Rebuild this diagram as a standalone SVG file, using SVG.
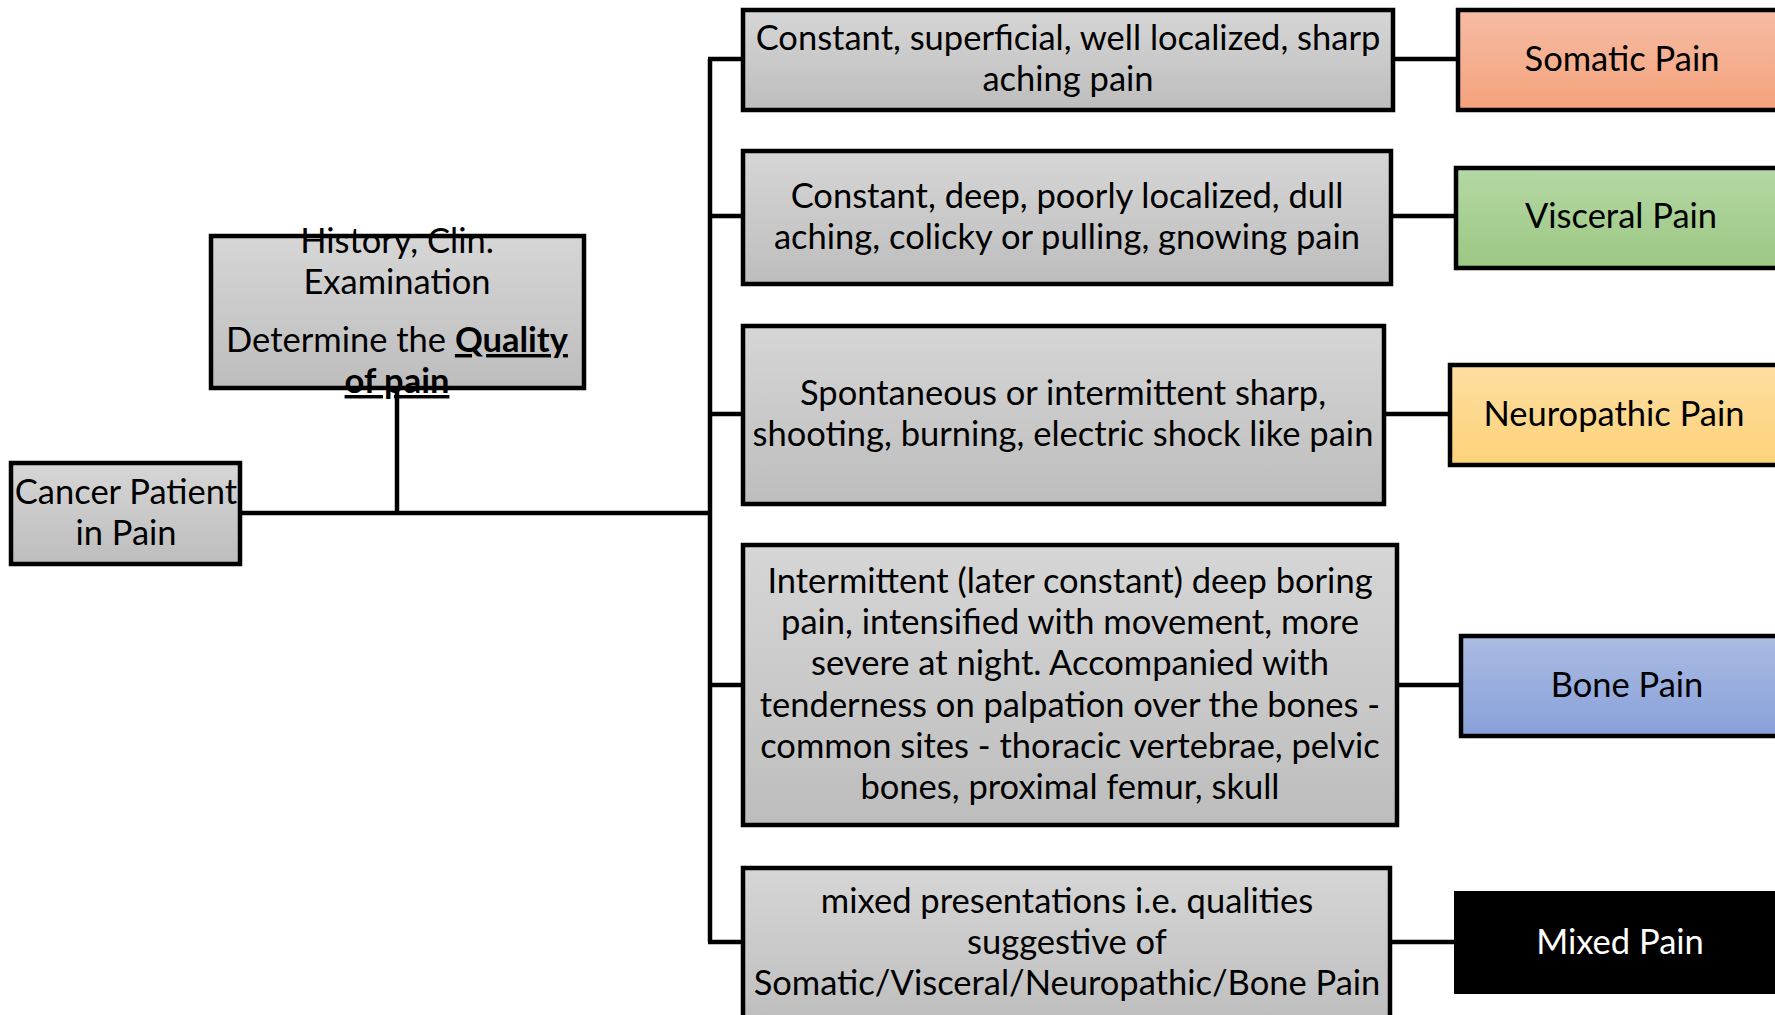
<svg xmlns="http://www.w3.org/2000/svg" width="1775" height="1015" viewBox="0 0 1775 1015">
  <defs>
    <linearGradient id="gGray" x1="0" y1="0" x2="0" y2="1">
      <stop offset="0" stop-color="#d6d6d6"/>
      <stop offset="1" stop-color="#bdbdbd"/>
    </linearGradient>
    <linearGradient id="gSomatic" x1="0" y1="0" x2="0" y2="1">
      <stop offset="0" stop-color="#f6bca4"/>
      <stop offset="1" stop-color="#f4a27c"/>
    </linearGradient>
    <linearGradient id="gVisceral" x1="0" y1="0" x2="0" y2="1">
      <stop offset="0" stop-color="#b5d8a4"/>
      <stop offset="1" stop-color="#9bc783"/>
    </linearGradient>
    <linearGradient id="gNeuro" x1="0" y1="0" x2="0" y2="1">
      <stop offset="0" stop-color="#fedea2"/>
      <stop offset="1" stop-color="#fdd278"/>
    </linearGradient>
    <linearGradient id="gBone" x1="0" y1="0" x2="0" y2="1">
      <stop offset="0" stop-color="#abbbe3"/>
      <stop offset="1" stop-color="#88a1d9"/>
    </linearGradient>
  </defs>
  <style>
    .box { stroke: #000; stroke-width: 4.5; }
    .gray { fill: url(#gGray); }
    .t { font-family: "Lato", "Liberation Sans", sans-serif; font-size: 34.5px; fill: #000; text-anchor: middle; }
    .w { fill: #fff; }
    .b { font-weight: bold; text-decoration: underline; }
    .ln { stroke: #000; stroke-width: 4.5; fill: none; }
  </style>
  <rect width="1775" height="1015" fill="#fff"/>

  <!-- root -->
  <g id="cancer-patient">
    <rect class="box gray" x="11" y="463" width="229" height="101"/>
    <text class="t" x="126" y="504">Cancer Patient</text>
    <text class="t" x="126" y="545">in Pain</text>
  </g>

  <!-- assessment -->
  <g id="history">
    <rect class="box gray" x="211" y="236" width="373" height="152"/>
    <text class="t" x="397" y="253">History, Clin.</text>
    <text class="t" x="397" y="294">Examination</text>
    <text class="t" x="397" y="352">Determine the <tspan class="b">Quality</tspan></text>
    <text class="t" x="397" y="393"><tspan class="b">of pain</tspan></text>
  </g>

  <!-- descriptions -->
  <g id="desc-somatic">
    <rect class="box gray" x="743" y="10" width="650" height="100"/>
    <text class="t" x="1068" y="50">Constant, superficial, well localized, sharp</text>
    <text class="t" x="1068" y="91">aching pain</text>
  </g>
  <g id="desc-visceral">
    <rect class="box gray" x="743" y="151" width="648" height="133"/>
    <text class="t" x="1067" y="208">Constant, deep, poorly localized, dull</text>
    <text class="t" x="1067" y="249">aching, colicky or pulling, gnowing pain</text>
  </g>
  <g id="desc-neuropathic">
    <rect class="box gray" x="743" y="326" width="641" height="178"/>
    <text class="t" x="1063" y="405">Spontaneous or intermittent sharp,</text>
    <text class="t" x="1063" y="446">shooting, burning, electric shock like pain</text>
  </g>
  <g id="desc-bone">
    <rect class="box gray" x="743" y="545" width="654" height="280"/>
    <text class="t" x="1070" y="593">Intermittent (later constant) deep boring</text>
    <text class="t" x="1070" y="634">pain, intensified with movement, more</text>
    <text class="t" x="1070" y="675">severe at night. Accompanied with</text>
    <text class="t" x="1070" y="717">tenderness on palpation over the bones -</text>
    <text class="t" x="1070" y="758">common sites - thoracic vertebrae, pelvic</text>
    <text class="t" x="1070" y="799">bones, proximal femur, skull</text>
  </g>
  <g id="desc-mixed">
    <rect class="box gray" x="743" y="868" width="647" height="160"/>
    <text class="t" x="1067" y="913">mixed presentations i.e. qualities</text>
    <text class="t" x="1067" y="954">suggestive of</text>
    <text class="t" x="1067" y="995">Somatic/Visceral/Neuropathic/Bone Pain</text>
  </g>

  <!-- pain types -->
  <g id="somatic">
    <rect class="box" fill="url(#gSomatic)" x="1458" y="10" width="340" height="100"/>
    <text class="t" x="1622" y="71">Somatic Pain</text>
  </g>
  <g id="visceral">
    <rect class="box" fill="url(#gVisceral)" x="1456" y="168" width="340" height="100"/>
    <text class="t" x="1621" y="228">Visceral Pain</text>
  </g>
  <g id="neuropathic">
    <rect class="box" fill="url(#gNeuro)" x="1450" y="365" width="340" height="100"/>
    <text class="t" x="1614" y="426">Neuropathic Pain</text>
  </g>
  <g id="bone">
    <rect class="box" fill="url(#gBone)" x="1461" y="636" width="340" height="100"/>
    <text class="t" x="1627" y="697">Bone Pain</text>
  </g>
  <g id="mixed">
    <rect fill="#000" x="1454" y="891" width="340" height="103"/>
    <text class="t w" x="1620" y="954">Mixed Pain</text>
  </g>

  <!-- connectors -->
  <g id="connectors">
    <path class="ln" d="M240 513 H710"/>
    <path class="ln" d="M397 388 V513"/>
    <path class="ln" d="M710 59 V942"/>
    <path class="ln" d="M708 59 H743"/>
    <path class="ln" d="M708 216 H743"/>
    <path class="ln" d="M708 414 H743"/>
    <path class="ln" d="M708 685 H743"/>
    <path class="ln" d="M708 942 H743"/>
    <path class="ln" d="M1393 59 H1458"/>
    <path class="ln" d="M1391 216 H1456"/>
    <path class="ln" d="M1384 414 H1450"/>
    <path class="ln" d="M1397 685 H1461"/>
    <path class="ln" d="M1390 942 H1454"/>
  </g>
</svg>
